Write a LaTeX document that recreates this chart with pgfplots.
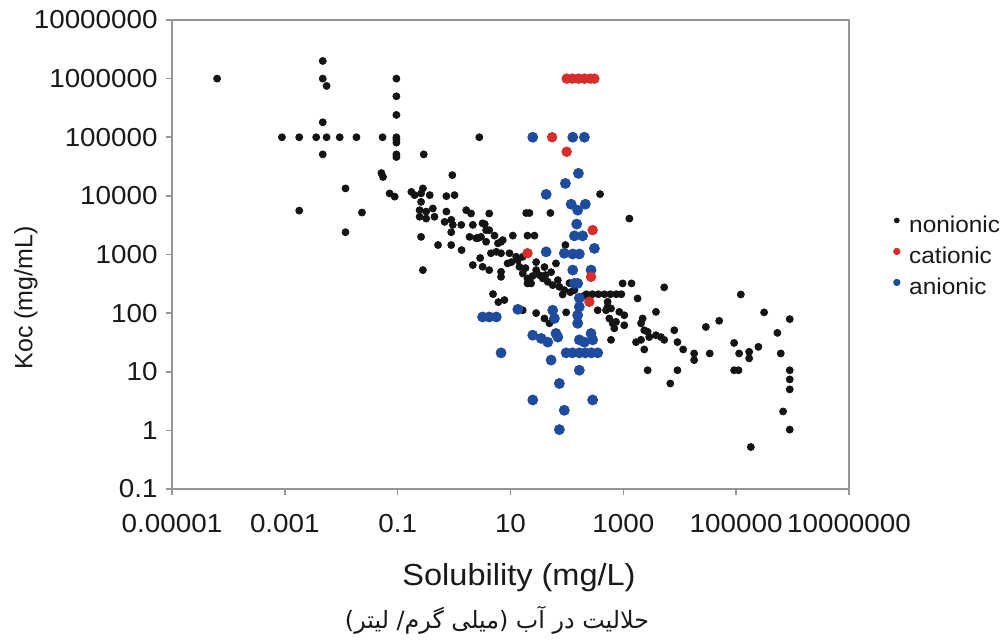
\documentclass[border=0pt]{standalone}
\usepackage{fontspec}
\setmainfont{Liberation Sans}[FakeStretch=1.07]
\newfontfamily\plainsans{Liberation Sans}
\newfontfamily\arabicfont[Script=Arabic]{DejaVu Sans}
\usepackage{graphicx}
\usepackage{pgfplots}
\pgfplotsset{compat=1.18}
\TeXXeTstate=1
\definecolor{nonion}{RGB}{20,20,20}
\definecolor{cation}{RGB}{215,45,45}
\definecolor{anion}{RGB}{30,75,158}
\definecolor{framegray}{RGB}{150,150,150}
\definecolor{txt}{RGB}{25,25,25}
\pgfplotsset{mylegimg/.style={legend image code/.code={\draw[##1] plot coordinates {(0pt,3pt)}; \path (-3pt,0pt) (3pt,0pt);}}}
\begin{document}
\begin{tikzpicture}
\begin{axis}[
 at={(0,0)}, anchor=south west,
 scale only axis, width=338.5pt, height=234.5pt,
 xmode=log, ymode=log,
 xmin=1e-5, xmax=1e7, ymin=0.1, ymax=1e7,
 xtick={1e-5,1e-3,0.1,10,1000,1e5,1e7},
 xticklabels={0.00001,0.001,0.1,10,1000,100000,10000000},
 ytick={0.1,1,10,100,1000,1e4,1e5,1e6,1e7},
 yticklabels={0.1,1,10,100,1000,10000,100000,1000000,10000000},
 xminorticks=false, yminorticks=false,
 xtick pos=bottom, ytick pos=left,
 tick align=outside, major tick length=3pt,
 tick style={framegray, line width=0.8pt},
 axis line style={framegray, line width=1pt},
 /pgf/number format/assume math mode=true,
 ticklabel style={font=\fontsize{13pt}{15pt}\selectfont, text=txt},
 xticklabel style={anchor=north, inner sep=0pt, yshift=-9.25pt},
 yticklabel style={anchor=east, inner sep=0pt, xshift=-4pt},
 xlabel={Solubility (mg/L)},
 xlabel style={at={(axis description cs:0.5126,-0.1898)}, anchor=center, inner sep=0pt, font=\fontsize{15.2pt}{18pt}\selectfont, text=txt},
 ylabel={Koc (mg/mL)},
 ylabel style={at={(axis description cs:-0.2157,0.4072)}, anchor=center, inner sep=0pt, font=\plainsans\fontsize{12.5pt}{15pt}\selectfont, text=txt},
 legend style={at={(axis description cs:1.0606,0.582)}, anchor=north west, draw=none, fill=none, inner sep=0pt, row sep=5.5pt, column sep=3pt,
   font=\fontsize{11.4pt}{13pt}\selectfont, text=txt, nodes={inner sep=0pt, text height=8pt, text depth=2pt}},
 legend cell align=left,
]
\addlegendimage{only marks, mark=*, mark size=1.2pt, nonion, mylegimg}
\addlegendentry{nonionic}
\addlegendimage{only marks, mark=*, mark size=1.6pt, cation, mylegimg}
\addlegendentry{cationic}
\addlegendimage{only marks, mark=*, mark size=1.6pt, anion, mylegimg}
\addlegendentry{anionic}

% nonionic
\addplot[only marks, mark=*, mark size=1.75pt, color=nonion, forget plot] coordinates {
(6.3e-5,1e6)
(0.0047,2.0e6) (0.0047,1.0e6) (0.0055,7.5e5) (0.0047,1.8e5) (0.0047,5.1e4)
(8.9e-4,1e5) (0.0018,1e5) (0.0036,1e5) (0.0055,1e5) (0.0094,1e5) (0.0186,1e5) (0.054,1e5) (0.095,1e5)
(0.095,1e6) (0.095,5e5) (0.095,2.4e5) (0.095,9.2e4) (0.095,8.1e4) (0.095,5.1e4) (0.095,4.6e4)
(2.8,1e5) (0.29,5.1e4) (0.0515,2.45e4) (0.055,2.1e4) (0.93,2.26e4)
(0.0119,1.34e4) (0.0018,5.6e3) (0.0233,5.2e3) (0.0119,2.4e3)
(0.072,1.1e4) (0.0885,9.7e3)
(0.175,1.17e4) (0.2,1.03e4) (0.28,1.34e4) (0.26,1.1e4) (0.37,1.03e4) (0.73,9.9e3) (1.02,1.03e4) (0.26,7.9e3)
(0.245,5.7e3) (0.245,4.4e3) (0.32,5.4e3) (0.32,4.1e3) (0.42,6.1e3) (0.45,4.4e3) (0.73,5.4e3) (0.68,3.6e3)
(0.89,3.9e3) (0.95,3.2e3) (1.34,3.2e3) (1.64,5.7e3) (2.0,5.0e3) (2.15,3.2e3) (3.2,3.4e3) (4.2,5.0e3)
(0.89,2.4e3) (0.26,2.0e3) (1.88,2.0e3) (2.64,1.9e3) (3.7,1.65e3) (0.52,1.45e3) (0.89,1.45e3)
(3.5,3.3e3) (3.7,2.6e3) (3.0,2.0e3) (2.47,1.9e3) (5.2,2.1e3) (7.3,1.76e3) (6.0,1.55e3)
(11,2.1e3) (20,2.1e3) (26.6,2.1e3) (4.5,1.05e3) (6.8,1.05e3) (9.6,1.05e3)
(2.15,660) (3.2,617) (4.2,542) (6.8,507) (6.8,416) (13.5,800) (14.4,617) (16.5,475) (20,391) (23.2,321)
(28.5,542) (32.6,445) (37.3,391) (45.7,342) (56,300) (73.6,281) (90,247) (64,705) (69,366)
(4.9,211) (6.1,154) (7.8,167) (84,208)
(12.6,914) (16.5,914) (5.6,1.11e3) (19,5.1e3) (21.7,5.1e3) (51,5.1e3) (387,1.07e4) (1280,4.1e3) (94,1.45e3)
(0.28,542) (20,321) (16.5,112) (28.5,100) (40,81) (49,67) (97,103) (6.8,1.65e3) (4.2,2.6e3)
(28.5,741) (40,610) (52.5,500) (111,325) (136,247) (8.9,705)
(10.4,741) (18.4,586) (24.5,428) (41.6,445) (115,228) (196,195) (2.9,870) (1.36,1190)
(221,210) (283,210) (361,210) (461,210) (589,210) (752,210) (922,210)
(972,321) (1400,321) (5300,275) (1790,178) (527,156) (527,128) (351,112) (494,112) (605,120) (849,105) (1040,92)
(3790,105) (565,81) (743,71) (693,55) (1040,62) (2200,81) (2060,67) (2350,51) (2700,48) (3790,42) (4650,39)
(5300,35) (8000,51) (29000,58) (605,35) (1680,32) (2060,35) (9100,32) (647,67) (2350,24) (2880,39)
(9100,10.6) (6800,6.3) (2700,10.6) (11500,24) (18000,20.5) (18000,15.8) (34000,20.5) (50000,74)
(92000,31) (92000,10.6) (110000,10.6) (113000,20.5) (121000,208) (170000,21.9) (170000,16.9) (248000,26.6)
(313000,103) (538000,46) (618000,20.5) (891000,79) (891000,10.6) (891000,7.4) (891000,5.0) (679000,2.1)
(891000,1.03) (182000,0.52)
};
% anionic
\addplot[only marks, mark=*, mark size=2.5pt, color=anion, forget plot] coordinates {
(24.8,1e5) (127,1e5) (204,1e5) (160,2.42e4) (94,1.63e4) (42.9,1.06e4) (119,7.2e3) (155,5.7e3) (212,7.2e3)
(149,3.3e3) (136,2.08e3) (190,2.08e3) (307,1.27e3) (42.9,1.11e3) (90,1.05e3) (127,1.02e3) (166,1.02e3)
(127,542) (268,542) (136,321) (155,321) (166,180) (166,128) (155,92) (155,67)
(3.2,86) (4.2,86) (5.6,86) (13.5,116) (56,112) (60,81)
(24.8,42) (35,37) (45.7,32) (64,45) (69,39) (166,35) (204,32) (268,45) (286,35)
(97,21) (125,21) (166,21) (212,21) (272,21) (351,21) (6.8,21)
(52.5,15.8) (166,10.6) (73.6,6.3) (24.8,3.3) (286,3.3) (90,2.2) (73.6,1.03)
};
% cationic
\addplot[only marks, mark=*, mark size=2.4pt, color=cation, forget plot] coordinates {
(99,1e6) (125,1e6) (160,1e6) (204,1e6) (261,1e6) (307,1e6)
(54.7,1e5) (99,5.66e4) (20,1.05e3) (286,2.6e3) (268,416) (250,156)
};
\end{axis}
\node[anchor=center, inner sep=0pt, text=txt] at (162.5pt,-65.5pt) {\resizebox{152pt}{!}{\arabicfont\beginR حلالیت در آب (میلی گرم/ لیتر)\endR}};
\pgfresetboundingbox
\useasboundingbox (-86pt,-76.5pt) rectangle (415.5pt,244.5pt);
\end{tikzpicture}
\end{document}
